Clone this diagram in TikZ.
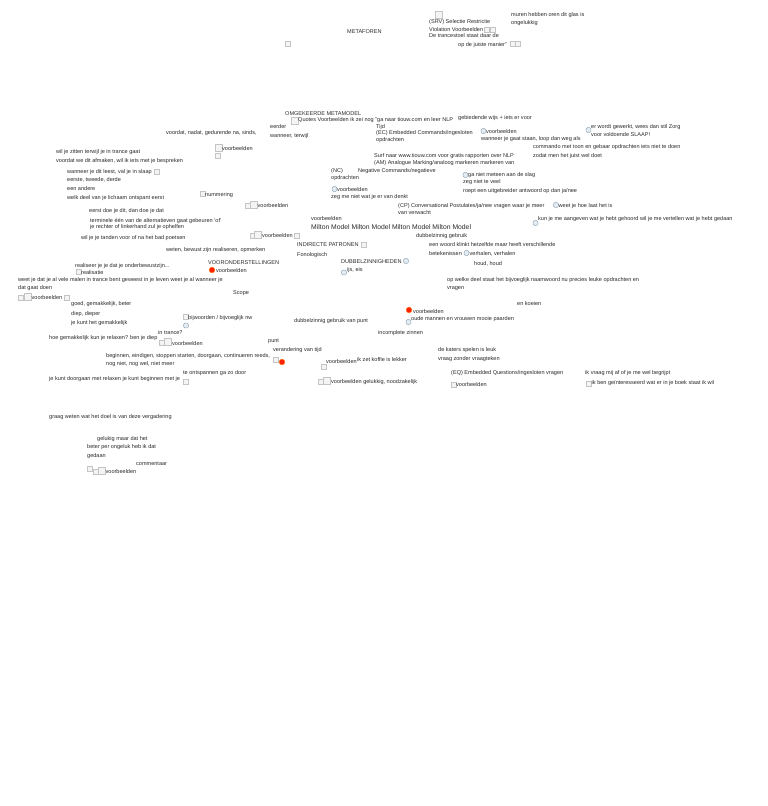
\documentclass[tikz,border=0pt]{standalone}
\usepackage{fontspec}
\setmainfont{Liberation Sans}
\definecolor{txt}{HTML}{2A2A2A}
\definecolor{boxln}{HTML}{C4C4C4}
\definecolor{boxfl}{HTML}{F4F4F4}
\definecolor{circln}{HTML}{8FA6B8}
\definecolor{circfl}{HTML}{E4ECF2}
\tikzset{
 lbl/.style={anchor=west,inner sep=0pt,text=txt,yshift=-1.5pt,font=\fontsize{5.55}{6.5}\selectfont,text height=3.8pt,text depth=1.1pt},
 big/.style={lbl,font=\fontsize{6.8}{8}\selectfont,text height=5pt,text depth=1.4pt},
 sbox/.style={draw=boxln,fill=boxfl,line width=.5pt,minimum size=4.6pt,inner sep=0pt},
 lbox/.style={draw=boxln,fill=boxfl,line width=.5pt,minimum size=6.6pt,inner sep=0pt},
 cbox/.style={draw=circln,fill=circfl,line width=.5pt,minimum size=4.6pt,inner sep=0pt,rounded corners=1pt},
 dot/.style={circle,fill=red!75!orange,draw=orange!80!red,line width=.4pt,minimum size=5.6pt,inner sep=0pt}
}
\begin{document}
\begin{tikzpicture}[x=1pt,y=-1pt]
\useasboundingbox (0,0) rectangle (768,806);
\fill[white] (0,0) rectangle (768,806);
% top
\node[lbl] (t1) at (347,31) {METAFOREN};
\node[sbox] (b1) at (288,44) {};
\node[lbox] (b2) at (439,15) {};
\node[lbl] (t2) at (429,21) {(SRV) Selectie Restrictie};
\node[lbl] (t3) at (429,29) {Violation Voorbeelden};
\node[sbox] (b3) at (487,29.5) {};
\node[sbox] (b4) at (492.5,29.5) {};
\node[lbl] (t4) at (429,35) {De trancestoel staat daar de};
\node[lbl] (t5) at (458,44) {op de juiste manier"};
\node[sbox] (b5) at (512.5,44) {};
\node[sbox] (b6) at (518,44) {};
\node[lbl] (t6) at (511,14) {muren hebben oren dit glas is};
\node[lbl] (t7) at (511,22) {ongelukkig};
% metamodel
\node[lbl] (t8) at (285,113) {OMGEKEERDE METAMODEL};
\node[lbox] (b7) at (295,121) {};
\node[lbl] (t9) at (298,119) {Quotes Voorbeelden ik zei nog "ga naar tiouw.com en leer NLP};
\node[lbl] (t10) at (458,117) {gebiedende wijs + iets er voor};
\node[lbl] (t11) at (376,126) {Tijd};
\node[lbl] (t12) at (270,126) {eerder};
\node[lbl] (t13) at (376,132) {(EC) Embedded Commands/ingesloten};
\node[lbl] (t14) at (376,139) {opdrachten};
\node[lbl] (t15) at (270,135) {wanneer, terwijl};
\node[lbl] (t16) at (166,132) {voordat, nadat, gedurende na, sinds,};
\node[cbox] (b8) at (483.5,131) {};
\node[lbl] (t17) at (486,131) {voorbeelden};
\node[lbl] (t18) at (481,138) {wanneer je gaat staan, loop dan weg als};
\node[lbl] (t19) at (591,126) {er wordt gewerkt, wees dan stil Zorg};
\node[cbox] (b9) at (588.5,130) {};
\node[lbl] (t20) at (591,134) {voor voldoende SLAAP!};
\node[lbl] (t21) at (533,146) {commando met toon en gebaar opdrachten iets niet te doen};
\node[lbl] (t22) at (533,155) {zodat men het juist wel doet};
\node[lbl] (t23) at (374,155) {Surf naar www.tiouw.com voor gratis rapporten over NLP};
\node[lbl] (t24) at (374,162) {(AM) Analogue Marking/analoog markeren markeren van};
% left upper
\node[lbl] (t25) at (56,151) {wil je zitten terwijl je in trance gaat};
\node[lbl] (t26) at (56,160) {voordat we dit afmaken, wil ik iets met je bespreken};
\node[lbox] (b10) at (218.5,148) {};
\node[lbl] (t27) at (222,148) {voorbeelden};
\node[sbox] (b11) at (218,155.5) {};
\node[lbl] (t28) at (67,171) {wanneer je dit leest, val je in slaap};
\node[sbox] (b12) at (157,172) {};
\node[lbl] (t29) at (67,179) {eerste, tweede, derde};
\node[lbl] (t30) at (67,188) {een andere};
\node[lbl] (t31) at (67,197) {welk deel van je lichaam ontspant eerst};
\node[sbox] (b13) at (202.5,194) {};
\node[lbl] (t32) at (205,194) {nummering};
% centre
\node[lbl] (t33) at (331,170) {(NC)};
\node[lbl] (t34) at (358,170) {Negative Commands/negatieve};
\node[lbl] (t35) at (331,177) {opdrachten};
\node[cbox] (b14) at (465.5,175) {};
\node[lbl] (t36) at (468,174) {ga niet meteen aan de slag};
\node[lbl] (t37) at (463,181) {zeg niet te veel};
\node[lbl] (t38) at (463,190) {roept een uitgebreider antwoord op dan ja/nee};
\node[cbox] (b15) at (334.5,189) {};
\node[lbl] (t39) at (337,189) {voorbeelden};
\node[lbl] (t40) at (331,196) {zeg me niet wat je er van denkt};
\node[lbl] (t41) at (398,205) {(CP) Conversational Postulates/ja/nee vragen waar je meer};
\node[lbl] (t42) at (398,212) {van verwacht};
\node[cbox] (b16) at (556,205) {};
\node[lbl] (t43) at (558.5,205) {weet je hoe laat het is};
\node[sbox] (b17) at (247.5,206) {};
\node[lbox] (b18) at (254,205) {};
\node[lbl] (t44) at (257.5,205) {voorbeelden};
\node[lbl] (t45) at (89,210) {eerst doe je dit, dan doe je dat};
\node[lbl] (t46) at (90,220) {terminele één van de alternatieven gaat gebeuren 'of'};
\node[lbl] (t47) at (90,226) {je rechter of linkerhand zul je ophelfen};
\node[lbl] (t48) at (311,218) {voorbeelden};
\node[big] (t49) at (311,226) {Milton Model Milton Model Milton Model Milton Model};
\node[lbl] (t50) at (538,218) {kun je me aangeven wat je hebt gehoord wil je me vertellen wat je hebt gedaan};
\node[cbox] (b19) at (535.5,223) {};
\node[lbl] (t51) at (81,237) {wil je je tanden voor of na het bad poetsen};
\node[sbox] (b20) at (252.5,235.5) {};
\node[lbox] (b21) at (258,234.5) {};
\node[lbl] (t52) at (262,234.5) {voorbeelden};
\node[sbox] (b22) at (297,235.5) {};
\node[lbl] (t53) at (416,235) {dubbelzinnig gebruik};
\node[lbl] (t54) at (297,244) {INDIRECTE PATRONEN};
\node[sbox] (b23) at (364,245) {};
\node[lbl] (t55) at (166,249) {weten, bewust zijn realiseren, opmerken};
\node[lbl] (t56) at (429,244) {een woord klinkt hetzelfde maar heeft verschillende};
\node[lbl] (t57) at (429,253) {betekenissen};
\node[cbox] (b24) at (466.5,253) {};
\node[lbl] (t58) at (469.5,253) {verhalen, verhalen};
\node[lbl] (t59) at (297,254) {Fonologisch};
\node[lbl] (t60) at (341,261) {DUBBELZINNIGHEDEN};
\node[cbox] (b25) at (406,261) {};
\node[lbl] (t61) at (474,263) {houd, houd};
\node[lbl] (t62) at (347,269) {ijs, eis};
\node[cbox] (b26) at (344,272.5) {};
\node[lbl] (t63) at (208,262) {VOORONDERSTELLINGEN};
\node[dot] (d1) at (212,270) {};
\node[lbl] (t64) at (216,270) {voorbeelden};
\node[lbl] (t65) at (75,265) {realiseer je je dat je onderbewustzijn...};
\node[sbox] (b27) at (78.5,272) {};
\node[lbl] (t66) at (81,272) {realisatie};
\node[lbl] (t67) at (447,279) {op welke deel staat het bijvoeglijk naamwoord nu precies leuke opdrachten en};
\node[lbl] (t68) at (447,287) {vragen};
\node[lbl] (t69) at (18,279) {weet je dat je al vele malen in trance bent geweest in je leven weet je al wanneer je};
\node[lbl] (t70) at (18,287) {dat gaat doen};
\node[sbox] (b28) at (21,297.5) {};
\node[lbox] (b29) at (28,296.5) {};
\node[lbl] (t71) at (31.5,297) {voorbeelden};
\node[sbox] (b30) at (67,297.5) {};
\node[lbl] (t72) at (233,292) {Scope};
\node[lbl] (t73) at (71,303) {goed, gemakkelijk, beter};
\node[lbl] (t74) at (71,313) {diep, dieper};
\node[lbl] (t75) at (71,322) {je kunt het gemakkelijk};
\node[lbl] (t76) at (517,303) {en koeien};
\node[dot] (d2) at (409,310) {};
\node[lbl] (t77) at (413,311) {voorbeelden};
\node[lbl] (t78) at (411,318) {oude mannen en vrouwen mooie paarden};
\node[cbox] (b31) at (408.5,322) {};
\node[lbl] (t79) at (294,320) {dubbelzinnig gebruik van punt};
\node[sbox] (b32) at (185.5,317) {};
\node[lbl] (t80) at (188,317) {bijwoorden / bijvoeglijk nw};
\node[cbox] (b33) at (186,325.5) {};
\node[lbl] (t81) at (268,340) {punt};
\node[lbl] (t82) at (158,332) {in trance?};
\node[lbl] (t83) at (49,337) {hoe gemakkelijk kun je relaxen? ben je diep};
\node[sbox] (b34) at (161.5,343) {};
\node[lbox] (b35) at (168,342) {};
\node[lbl] (t84) at (172,343) {voorbeelden};
\node[lbl] (t85) at (378,332) {incomplete zinnen};
\node[lbl] (t86) at (273,349) {verandering van tijd};
\node[lbl] (t87) at (438,349) {de katers spelen is leuk};
\node[lbl] (t88) at (106,355) {beginnen, eindigen, stoppen starten, doorgaan, continueren reeds,};
\node[lbl] (t89) at (106,363) {nog niet, nog wel, niet meer};
\node[sbox] (b36) at (275.5,359.5) {};
\node[dot] (d3) at (282,362) {};
\node[lbl] (t90) at (438,358) {vraag zonder vraagteken};
\node[lbl] (t91) at (326,361) {voorbeelden};
\node[lbl] (t92) at (357,359) {ik zet koffie is lekker};
\node[sbox] (b37) at (323.5,366.5) {};
\node[lbl] (t93) at (183,372) {te ontspannen ga zo door};
\node[lbl] (t94) at (451,372) {(EQ) Embedded Questions/ingesloten vragen};
\node[lbl] (t95) at (585,372) {ik vraag mij af of je me wel begrijpt};
\node[lbl] (t96) at (49,378) {je kunt doorgaan met relaxen je kunt beginnen met je};
\node[sbox] (b38) at (186,381.5) {};
\node[sbox] (b39) at (320.5,381.5) {};
\node[lbox] (b40) at (327,380.5) {};
\node[lbl] (t97) at (331,380.5) {voorbeelden gelukkig, noodzakelijk};
\node[sbox] (b41) at (453.5,385) {};
\node[lbl] (t98) at (456,384) {voorbeelden};
\node[sbox] (b42) at (589,384) {};
\node[lbl] (t99) at (591.5,381.5) {ik ben geïnteresseerd wat er in je boek staat ik wil};
\node[lbl] (t100) at (49,416) {graag weten wat het doel is van deze vergadering};
\node[lbl] (t101) at (97,438) {gelukig maar dat het};
\node[lbl] (t102) at (87,446) {beter per ongeluk heb ik dat};
\node[lbl] (t103) at (87,455) {gedaan};
\node[lbl] (t104) at (136,463) {commentaar};
\node[sbox] (b43) at (89.5,469) {};
\node[sbox] (b44) at (96,472) {};
\node[lbox] (b45) at (102,471) {};
\node[lbl] (t105) at (105.5,471) {voorbeelden};
\end{tikzpicture}
\end{document}
